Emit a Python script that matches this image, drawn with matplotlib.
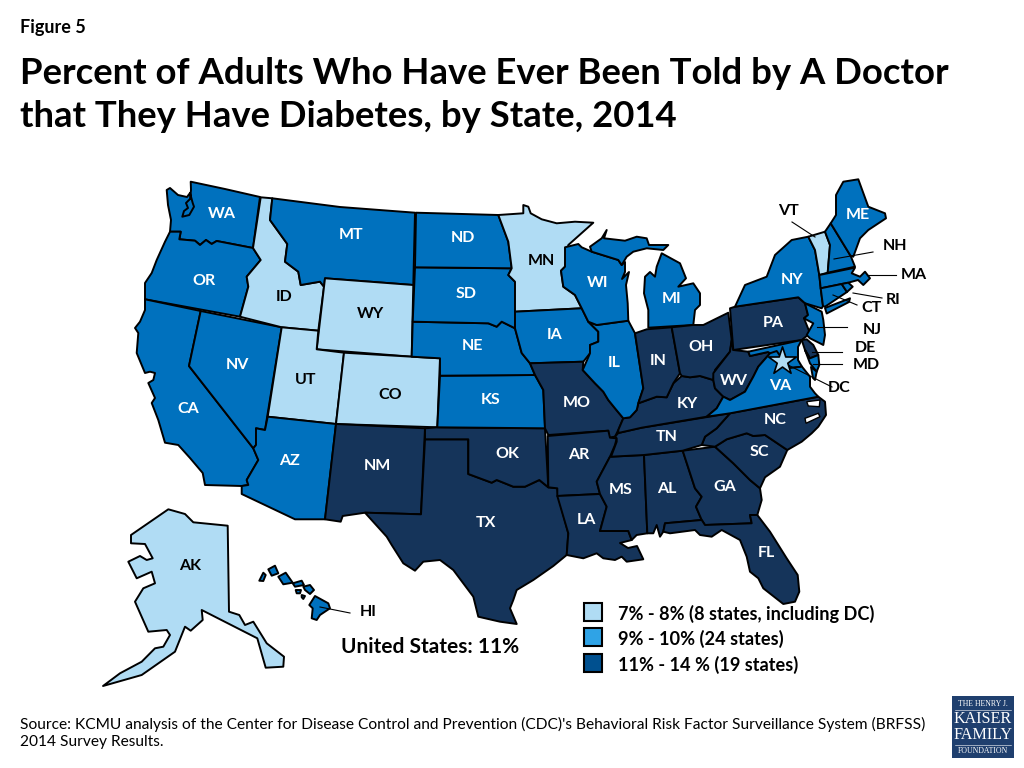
import matplotlib
matplotlib.use("Agg")
import matplotlib.pyplot as plt
from matplotlib.patches import Polygon, Rectangle

plt.rcParams['font.family'] = ['Lato', 'DejaVu Sans']

TITLE = "Percent of Adults Who Have Ever Been Told by A Doctor\nthat They Have Diabetes, by State, 2014"
FIG_LABEL = "Figure 5"
US_TOTAL = "United States: 11%"
SOURCE = ("Source: KCMU analysis of the Center for Disease Control and Prevention (CDC)'s Behavioral Risk Factor Surveillance System (BRFSS)\n"
          "2014 Survey Results.")

TIER_LOW = ["AK", "ID", "WY", "UT", "CO", "MN", "VT", "DC"]
TIER_MID = ["WA", "OR", "CA", "NV", "AZ", "MT", "ND", "SD", "NE", "KS", "IA", "WI", "IL", "MI", "UP", "NY", "LI",
            "ME", "NH", "MA", "CT", "RI", "NJ", "MD", "MDE", "VA", "VAE", "HI1", "HI2", "HI3", "HI4", "HI5", "HI6", "HI7", "HI8"]
TIER_HIGH = ["NM", "TX", "OK", "MO", "AR", "LA", "MS", "AL", "GA", "FL", "SC", "NC", "TN", "KY", "IN", "OH", "WV", "PA", "DE"]

COLOR_LOW = "#B0DCF4"
COLOR_MID = "#0071BE"
COLOR_HIGH = "#15345A"
LEGEND_COLORS = ["#B0DCF4", "#2FA3E6", "#00508F"]
LEGEND_LABELS = ["7% - 8% (8 states, including DC)", "9% - 10% (24 states)", "11% - 14 % (19 states)"]

OUTLINES = {
 "WA": [(190.7,181.7),(225,189),(260,197),(253,248),(216.7,241),(211.7,244),(206,240),(200,245),(195,240.7),(179.3,239.3),(180.7,231.7),(170,231.7),(171,220),(168,205),(166.7,190),(170,188),(178,195),(187,197),(190,193),(192.7,203),(194,206.7),(189.3,215),(182.3,216.7),(184,211),(188,208),(186,203),(190,199),(191,190)],
 "OR": [(170,231.7),(180.7,231.7),(179.3,239.3),(195,240.7),(200,245),(206,240),(211.7,244),(216.7,241),(253,248),(260.7,260),(246.7,276.7),(248.3,286.7),(240,316.7),(145,299.3),(145,283),(151.7,273),(156.7,260),(165,241.7)],
 "CA": [(145,299.3),(200.7,311),(189,366),(253.3,448.3),(258.3,460),(246.7,480),(248.3,485),(241.7,486),(205,485),(202.7,473),(190,458),(178.3,445),(165,442.7),(158.3,420),(151.7,403),(155,398),(148.3,383),(153.3,380),(155,373),(150,371.7),(145,373),(136.7,353),(138.3,333),(135,328),(140,321.7),(145,310)],
 "NV": [(200.7,311),(281.7,327.3),(265,430),(256,428.3),(256,445),(253.3,448.3),(189,366)],
 "ID": [(260.7,197.3),(272.3,198.3),(270,220),(287.3,244),(285,261.7),(298.3,271.7),(300.7,285),(320,281.7),(324,286.7),(318.3,330.7),(281.7,327.3),(240,316.7),(248.3,286.7),(246.7,276.7),(260.7,260),(253,248)],
 "MT": [(272.3,198.3),(340,207),(415,212.7),(413.3,285),(325,278.3),(324,286.7),(320,281.7),(300.7,285),(298.3,271.7),(285,261.7),(287.3,244),(270,220)],
 "WY": [(325,278.3),(413.3,285),(411.7,356.7),(316.7,349.3)],
 "UT": [(281.7,327.3),(318.3,330.7),(316.7,349.3),(344,352.7),(336,424),(267.7,416.7)],
 "CO": [(344,352.7),(411.7,356.7),(440,358.3),(437.3,427.3),(336,424)],
 "AZ": [(267.7,416.7),(336,424),(325,519.3),(295,519.3),(241.7,494),(241.7,486),(248.3,485),(246.7,480),(258.3,460),(253.3,448.3),(256,445),(256,428.3),(265,430)],
 "NM": [(336,424),(425,428.3),(421,514.3),(365,512.7),(342.7,516),(340.7,521.7),(325,519.3)],
 "TX": [(425,439.3),(468.3,439.3),(468.3,474),(491.7,482.7),(496.7,480),(513.3,486.7),(525,486.7),(539.3,480),(548.3,487.3),(557.3,488.3),(558.3,496.7),(568.3,533.3),(566.7,555),(553.3,566),(533.3,580),(516.7,590),(513.3,600),(510,608.3),(516.7,624),(500,621.7),(478.3,616.7),(473.3,596.7),(453.3,570),(440,560),(423.3,561.7),(415,570.7),(403.3,563.3),(391.7,545),(386.7,536.7),(365,512.7),(421,514.3)],
 "OK": [(425,428.3),(437.3,427.3),(545,428.3),(548.3,487.3),(539.3,480),(525,486.7),(513.3,486.7),(496.7,480),(491.7,482.7),(468.3,474),(468.3,439.3),(425,439.3)],
 "KS": [(440,375.7),(535,375),(543.3,390),(545,428.3),(437.3,427.3)],
 "NE": [(412.7,321.7),(488.3,323.3),(496.7,326.7),(501.7,321.7),(515,328.3),(521.7,353),(530,363.3),(535,375),(440,375.7),(440,358.3),(411.7,356.7)],
 "SD": [(415,267.3),(511.7,268.3),(508.3,275),(515,281.7),(515,328.3),(501.7,321.7),(496.7,326.7),(488.3,323.3),(412.7,321.7)],
 "ND": [(416,212.7),(498.3,215),(508.3,241.7),(511.7,268.3),(415,267.3)],
 "MN": [(498.3,215),(523.3,213.3),(523.3,205),(528.3,206.7),(530.7,213.3),(541.7,219.3),(556.7,223.3),(575,221.7),(593.3,222.7),(568.3,245),(565,266.7),(561,270.7),(563.3,286.7),(575,295),(581.7,308.3),(515,311.7),(515,281.7),(508.3,275),(511.7,268.3),(508.3,241.7)],
 "IA": [(515,311.7),(581.7,308.3),(588.3,321.7),(598.3,331.7),(598.3,341.7),(590,345),(590,353.3),(583.3,361.7),(530,363.3),(521.7,353),(515,328.3)],
 "MO": [(530,363.3),(583.3,361.7),(582.7,370),(595,383.3),(603.3,391.7),(608.3,400),(615,408.3),(623.3,418.3),(618.3,430),(615,436.7),(608.3,437.7),(608.3,430.7),(548.3,435),(545,428.3),(543.3,390),(535,375)],
 "AR": [(547.7,436),(608.3,430.7),(610,437.7),(616.7,438.3),(615,445),(610,456.7),(596.7,481.7),(600,494),(557.3,496),(557.3,488.3),(548.3,487.3)],
 "LA": [(557.3,496),(600,494),(606.7,506.7),(600,531),(628.3,531),(631.7,540),(620,543),(628,548),(637,546),(643.3,559.3),(626.7,561.7),(621.7,556.7),(615,560),(603.3,558.3),(596.7,553.3),(583.3,558.3),(566.7,555),(568.3,533.3)],
 "MS": [(610,456.7),(644,455),(647.3,533.3),(636.7,535),(631.7,540),(628.3,531),(600,531),(606.7,506.7),(600,494),(596.7,481.7)],
 "AL": [(644,455),(682.7,450.7),(695,488.3),(701.7,496.7),(696,506.7),(701.7,520),(665,523.3),(663.3,531.7),(660,536.7),(656.7,525),(653.3,533.3),(647.3,533.3)],
 "GA": [(682.7,450.7),(715,446.7),(733.3,463.3),(750,480),(760,488.3),(761.7,500),(757.3,515),(750,515),(751.7,523.3),(705,525),(701.7,520),(696,506.7),(701.7,496.7),(695,488.3)],
 "FL": [(665,523.3),(701.7,520),(705,525),(751.7,523.3),(750,515),(757.3,515),(770,531.7),(786.7,558.3),(797.7,575),(799.3,591.7),(795,601.7),(783.3,604),(763.3,588.3),(758.3,578.3),(750,571.7),(746.7,556.7),(740,540),(721.7,530),(711.7,536.7),(700,535),(695,530),(670,533.3),(663.3,531.7)],
 "SC": [(715,446.7),(726.7,439.3),(746.7,433.3),(753.3,436),(765,435),(787.3,450),(780,466.7),(765,477.3),(760,488.3),(750,480),(733.3,463.3)],
 "NC": [(730,413.3),(818.3,396.7),(825,401.7),(826,415),(818.3,426.7),(811.7,433.3),(801.7,441.7),(787.3,450),(765,435),(753.3,436),(746.7,433.3),(726.7,439.3),(715,446.7),(701.7,445),(705,436.7),(716.7,428.3)],
 "TN": [(618.3,433),(641.7,427.7),(730,413.3),(716.7,428.3),(705,436.7),(701.7,445),(682.7,450.7),(644,455),(611,456.7),(616.7,441.7),(616.7,438.3),(615,436.7)],
 "KY": [(623.3,418.3),(630,417.3),(636.7,410),(638.3,403.3),(656.7,396.7),(666.7,397.3),(673.3,383.3),(681.7,376),(690,377.3),(700,376),(713.3,380),(715,388.3),(723.3,396.7),(716.7,408.3),(706.7,416.7),(641.7,427.7),(618.3,433),(618.3,430)],
 "IL": [(596.7,325),(628.3,320.7),(635,333.3),(643.3,388.3),(638.3,403.3),(636.7,410),(630,417.3),(623.3,418.3),(615,408.3),(608.3,400),(603.3,391.7),(595,383.3),(582.7,370),(590,353.3),(590,345),(598.3,341.7),(598.3,331.7),(588.3,321.7)],
 "WI": [(565,247.3),(578.3,244),(581.7,247.3),(591.7,251.7),(618.3,260),(621.7,265),(625,262),(625,272),(622,279),(629,272),(626,285),(627.7,303.3),(628.3,320.7),(596.7,325),(588.3,321.7),(581.7,308.3),(575,295),(563.3,286.7),(561,270.7),(565,266.7)],
 "UP": [(590,246.7),(601.7,238.3),(606.7,230),(604,238.3),(625,240.7),(636.7,236.7),(646.7,238.3),(649,245),(668.3,245),(663.3,250),(646.7,248.3),(633.3,251.7),(626.7,256.7),(621.7,265),(618.3,260),(591.7,251.7)],
 "MI": [(661.7,253.3),(680,263.3),(686,278.3),(678.3,286.7),(693.3,283.3),(700,293.3),(700,305),(695,310),(693.3,325),(648.3,327.7),(648.3,310),(644,293.3),(645,276.7),(650,272),(655,276.7),(656.7,266.7)],
 "IN": [(635,333.3),(646.7,329.3),(671.7,327.3),(680,373.3),(673.3,383.3),(666.7,397.3),(656.7,396.7),(638.3,403.3),(643.3,388.3)],
 "OH": [(671.7,327.3),(693.3,325),(703.3,325),(728.3,312.7),(731.7,340),(730,351.7),(715,370),(713.3,380),(700,376),(690,377.3),(681.7,376),(680,373.3)],
 "WV": [(713.3,380),(713.3,373.3),(718.3,366.7),(730,351.7),(731.7,340),(733.3,350),(748.3,351.7),(750,356),(768,352),(770,353.3),(758.3,366.7),(753.3,376.7),(745,391.7),(730,400),(723.3,396.7),(715,388.3)],
 "PA": [(730,308.3),(735,306.7),(798.3,297.3),(805,303.3),(808,315),(804,318.3),(810,333.3),(801.7,340),(733.3,350)],
 "NY": [(735,306.7),(745,285),(766.7,276.7),(775,255),(791.7,240),(808.3,236.7),(815,250),(819.3,275),(820.7,288.3),(823,306),(821.7,308.3),(805,303.3),(798.3,297.3)],
 "LI": [(825,308),(850,298.3),(849,302),(826.7,313.5)],
 "VT": [(808.3,236.7),(825,231.7),(830,245),(827.7,272.7),(819.3,275),(815,250)],
 "NH": [(825,231.7),(830.7,223.3),(850.7,256),(855,266.7),(827.7,272.7),(830,245)],
 "ME": [(830.7,223.3),(836,215),(836,195),(843.3,181.7),(858.3,179.3),(868.3,206.7),(885,213.3),(886,218.3),(868.3,230),(860,238.3),(853.3,256.7),(850.7,256)],
 "MA": [(819.3,275),(855,267.7),(851.7,273.3),(860,276.7),(865,271.7),(870,278.3),(863.3,285),(858,280),(848.3,282.7),(841.7,284),(820.7,288.3)],
 "CT": [(820.7,288.3),(841.7,284),(847,292),(825,306.7),(823,306)],
 "RI": [(841.7,284),(848.3,282.7),(852.7,286.7),(847,292)],
 "NJ": [(805,303.3),(821.7,311.7),(823.3,320),(825,335),(823.3,345),(820,343.3),(810,338.3),(806.7,335),(813.3,323.3),(804,318.3),(808,315)],
 "MD": [(748.3,351.7),(801.7,340),(798,347),(798,360),(802,366.7),(790,368),(783,360),(770,353.3),(768,352),(750,356)],
 "DE": [(801.7,340),(806.7,339.3),(813.3,345),(818.3,355),(810,358.3),(805,350)],
 "MDE": [(805,350),(810,358.3),(818.3,355),(819.3,365),(816.7,371.7),(810,363.3)],
 "VAE": [(811,367),(816.7,371.7),(815,380),(813,378)],
 "VA": [(706.7,416.7),(716.7,408.3),(723.3,396.7),(730,400),(745,391.7),(753.3,376.7),(758.3,366.7),(770,353.3),(776.7,351),(783,360),(790,368),(802,366.7),(810,376.7),(810,386.7),(815,393.3),(818.3,396.7),(730,413.3)],
 "AK": [(168.3,509.3),(185,514),(193.3,522.3),(227.7,525.7),(229,611.7),(239.3,615),(245,625),(253.3,621.7),(266.7,643.3),(284,656.7),(283.3,666.7),(265.7,667.7),(257.3,638.3),(201.7,610),(202.7,620),(190.7,630.7),(185,626.7),(175,651.7),(141.7,675),(103,686),(120,673.3),(141.7,661.7),(155,648.3),(163.3,646.7),(170,635),(166.7,630),(148.3,631.7),(135,601.7),(143.3,588.3),(155,583.3),(151.7,571.7),(136.7,578.3),(128.3,561.7),(140,556),(146.7,560),(152.7,558.3),(145,544),(131,543.3),(131,535)],
 "HI1": [(315,596),(328.3,603.3),(330,608.3),(320,615),(316.7,620),(311.7,618.3),(312.7,608.3),(309.3,605)],
 "HI2": [(303.3,586.7),(310,585),(314,590),(310,594),(305,590)],
 "HI3": [(292.7,583.3),(301.7,580.7),(304,585),(295,586.7)],
 "HI4": [(278.3,576.7),(285.7,572.7),(292.7,582.7),(283.3,584.3)],
 "HI5": [(268.3,569.3),(275,565.7),(278.3,573.3),(271.7,575.7)],
 "HI6": [(263.3,572.7),(265.7,575),(263.3,581),(259.3,580.7)],
 "HI7": [(295.7,590),(301,590),(300,593.3),(296.7,593.3)],
 "HI8": [(301.7,595),(305,596),(303.3,599),(301.7,597.3)],
}
SOUNDS = [
 [(806.7,401.7),(820,400),(819.3,406.7),(808.3,406)],
 [(805,418.3),(818.3,413.3),(820,416.7),(806,423.3)],
]

LABELS_INSIDE = {
 "WA":(222,214),"OR":(204,281),"CA":(188,409),"NV":(237,365),"ID":(284,297),"MT":(351,235),"WY":(370,314),
 "UT":(306,380),"CO":(390,395),"AZ":(289,461),"NM":(377,466),"ND":(463,238),"SD":(466,294),"NE":(472,346),
 "KS":(491,400),"OK":(507,454),"TX":(486,523),"MN":(541,261),"IA":(555,335),"MO":(577,403),"AR":(579,455),
 "LA":(586,520),"WI":(598,283),"IL":(614,363),"MI":(672,299),"IN":(658,361),"OH":(701,347),"KY":(687,404),
 "TN":(667,437),"MS":(621,490),"AL":(667,489),"GA":(725,487),"FL":(766,553),"SC":(759,452),"NC":(775,420),
 "VA":(780,386),"WV":(734,381),"PA":(773,323),"NY":(792,280),"ME":(858,215),"AK":(190,566),
}
LABELS_OUTSIDE = {
 "VT":(788,211),"NH":(895,246),"MA":(914,275),"RI":(893,300),"CT":(872,308),"NJ":(872,330),
 "DE":(865,348),"MD":(866,365),"DC":(839,388),"HI":(368,612),
}
LEADERS = [
 ((792,222),(815,237)),((834,259),(873,252)),((867,275),(896,275)),((853,293),(882,298)),
 ((833,295),(857,305)),((817,327),(847,327)),((812,352),(842,352)),((813,364),(842,364)),
 ((788,365),(832,387)),((320,607),(350,613)),
]
DC_STAR = (782, 361)

fig = plt.figure(figsize=(10.24, 7.68), dpi=100, facecolor="white")
ax = fig.add_axes([0, 0, 1, 1])
ax.set_xlim(0, 1024)
ax.set_ylim(768, 0)
ax.axis("off")

def tier_color(code):
    if code in TIER_LOW:
        return COLOR_LOW
    if code in TIER_MID:
        return COLOR_MID
    return COLOR_HIGH

for code, pts in OUTLINES.items():
    ax.add_patch(Polygon(pts, closed=True, facecolor=tier_color(code), edgecolor="black",
                         linewidth=1.4, joinstyle="round", zorder=2))
for pts in SOUNDS:
    ax.add_patch(Polygon(pts, closed=True, facecolor="white", edgecolor="black", linewidth=1.0, zorder=3))

for a, b in LEADERS:
    ax.plot([a[0], b[0]], [a[1], b[1]], color="black", lw=0.8, zorder=4)

ax.scatter([DC_STAR[0]], [DC_STAR[1]], marker="*", s=440, facecolor=COLOR_LOW, edgecolor="black", linewidth=1.2, zorder=5)

for code, (x, y) in LABELS_INSIDE.items():
    col = "black" if code in TIER_LOW else "white"
    ax.text(x, y, code, color=col, fontsize=11.5, fontweight="bold", ha="center", va="center", zorder=6)
for code, (x, y) in LABELS_OUTSIDE.items():
    ax.text(x, y, code, color="black", fontsize=11.5, fontweight="bold", ha="center", va="center", zorder=6)

ax.text(20, 28, FIG_LABEL, fontsize=13, fontweight="bold", ha="left", va="center", color="black")
ax.text(20, 95, TITLE, fontsize=26.3, fontweight="bold", ha="left", va="center", color="black", linespacing=1.36)
ax.text(430, 647, US_TOTAL, fontsize=15, fontweight="bold", ha="center", va="center", color="black")
ax.text(20, 733, SOURCE, fontsize=11.2, ha="left", va="center", color="black", linespacing=1.35)

LEGEND_Y = [603, 628, 654]
for y, c, lab in zip(LEGEND_Y, LEGEND_COLORS, LEGEND_LABELS):
    ax.add_patch(Rectangle((584, y), 17.5, 17.5, facecolor=c, edgecolor="black", linewidth=1.5, zorder=3))
    ax.text(618, y + 11, lab, fontsize=13.1, fontweight="bold", ha="left", va="center", color="black")

ax.add_patch(Rectangle((952, 696), 62, 62, facecolor="#1F3F6E", edgecolor="none", zorder=3))
ax.plot([955, 1011], [709.5, 709.5], color="white", lw=0.4, zorder=4)
ax.plot([955, 1011], [745, 745], color="white", lw=0.4, zorder=4)
ax.text(983, 704, "THE HENRY J.", family="Liberation Serif", fontsize=5.6, color="white", ha="center", va="center", zorder=4)
ax.text(983, 719, "KAISER", family="Liberation Serif", fontsize=11.6, color="white", ha="center", va="center", zorder=4)
ax.text(983, 735, "FAMILY", family="Liberation Serif", fontsize=11.6, color="white", ha="center", va="center", zorder=4)
ax.text(983, 751, "FOUNDATION", family="Liberation Serif", fontsize=5.6, color="white", ha="center", va="center", zorder=4)

fig.savefig("out.png", dpi=100)
